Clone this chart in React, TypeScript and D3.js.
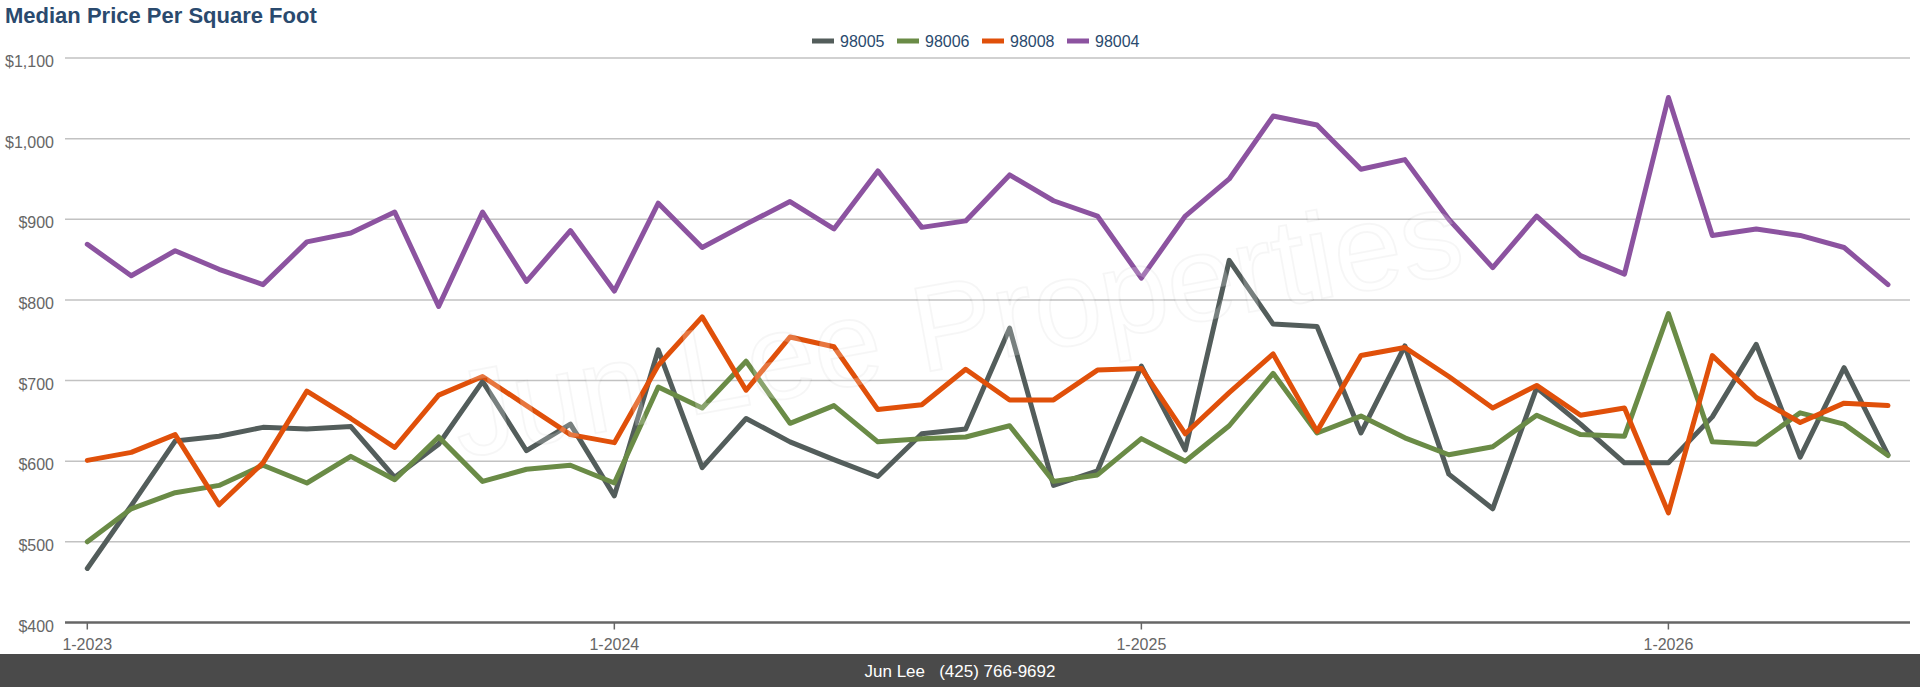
import React, { useEffect } from 'react';
import * as d3 from 'd3';

const months = [
  '1-2023','2-2023','3-2023','4-2023','5-2023','6-2023','7-2023','8-2023','9-2023','10-2023','11-2023','12-2023',
  '1-2024','2-2024','3-2024','4-2024','5-2024','6-2024','7-2024','8-2024','9-2024','10-2024','11-2024','12-2024',
  '1-2025','2-2025','3-2025','4-2025','5-2025','6-2025','7-2025','8-2025','9-2025','10-2025','11-2025','12-2025',
  '1-2026','2-2026','3-2026','4-2026','5-2026','6-2026',
];
const xTickLabels = ['1-2023', '1-2024', '1-2025', '1-2026'];
const yTickValues = [400, 500, 600, 700, 800, 900, 1000, 1100];

const zip98005 = [467,545,625,631,642,640,643,580,621,699,613,646,557,738,592,653,624,602,581,634,640,765,570,588,718,614,849,770,767,635,743,584,541,691,646,598,598,655,745,605,716,608];
const zip98006 = [500,541,561,570,595,573,606,577,630,575,590,595,573,692,666,724,647,669,624,628,630,644,575,583,628,600,644,709,635,656,629,608,618,657,633,631,783,624,621,660,646,607];
const zip98008 = [601,611,633,546,598,687,653,617,682,705,669,633,623,719,779,688,754,742,664,670,714,676,676,713,715,634,685,733,637,731,741,705,666,694,657,666,536,731,679,648,672,669];
const zip98004 = [869,830,861,838,819,872,883,909,792,909,823,886,811,920,865,894,922,888,960,890,898,955,923,904,827,904,950,1028,1017,962,974,900,840,904,855,832,1051,880,888,880,865,819];

const seriesNames = ['98005', '98006', '98008', '98004'];
const seriesValues = [zip98005, zip98006, zip98008, zip98004];
const seriesColors = ['#535d5b', '#6a8b46', '#e0500a', '#8c53a0'];

const W = 1920;
const H = 687;
const FONT = '"Liberation Sans", Arial, Helvetica, sans-serif';

export default function App() {
  useEffect(() => {
    document.body.style.margin = '0';
  }, []);

  const plotLeft = 65;
  const plotRight = 1910;
  const x = d3.scalePoint<string>().domain(months).range([87.3, 1888]);
  const y = d3.scaleLinear().domain([400, 1100]).range([622.5, 58]);
  const line = d3
    .line<number>()
    .x((_, i) => x(months[i]) as number)
    .y((d) => y(d));

  const legendX = [812, 897, 982, 1067];

  return (
    <div style={{ position: 'absolute', left: 0, top: 0 }}>
      <svg width={W} height={H} style={{ display: 'block', fontFamily: FONT }}>
        <rect x={0} y={0} width={W} height={H} fill="#ffffff" />
        <text x={5} y={22.5} fontSize={22} fontWeight="bold" fill="#2a4a6e">
          Median Price Per Square Foot
        </text>

        {seriesNames.map((n, i) => (
          <g key={n}>
            <rect x={legendX[i]} y={38.5} width={22} height={5} fill={seriesColors[i]} />
            <text x={legendX[i] + 28} y={46.5} fontSize={16} fill="#2a4a6e">
              {n}
            </text>
          </g>
        ))}

        {yTickValues.map((v) => (
          <g key={v}>
            {v !== 400 && (
              <line x1={plotLeft} x2={plotRight} y1={y(v)} y2={y(v)} stroke="#c2c2c2" strokeWidth={1.5} />
            )}
            <text x={54} y={y(v) + 9} fontSize={16} fill="#666666" textAnchor="end">
              {d3.format('$,')(v)}
            </text>
          </g>
        ))}

        {seriesValues.map((vals, i) => (
          <path
            key={seriesNames[i]}
            d={line(vals) || ''}
            fill="none"
            stroke={seriesColors[i]}
            strokeWidth={5}
            strokeLinejoin="round"
            strokeLinecap="round"
          />
        ))}

        <text
          x={964}
          y={365}
          transform="rotate(-10.5 964 365)"
          fontSize={122}
          textAnchor="middle"
          fill="#ffffff"
          fillOpacity={0.22}
          stroke="#000000"
          strokeOpacity={0.035}
          strokeWidth={2}
        >
          Jun Lee Properties
        </text>

        <line x1={plotLeft} x2={plotRight} y1={y(400)} y2={y(400)} stroke="#666666" strokeWidth={2.5} />
        {xTickLabels.map((m) => (
          <g key={m}>
            <line x1={x(m)} x2={x(m)} y1={y(400)} y2={y(400) + 7} stroke="#666666" strokeWidth={1.5} />
            <text x={x(m)} y={650} fontSize={16} fill="#666666" textAnchor="middle">
              {m}
            </text>
          </g>
        ))}

        <rect x={0} y={654} width={W} height={H - 654} fill="#4a4a4a" />
        <text x={960} y={676.5} fontSize={17} fill="#ffffff" textAnchor="middle" style={{ whiteSpace: 'pre' }}>
          {'Jun Lee   (425) 766-9692'}
        </text>
      </svg>
    </div>
  );
}
